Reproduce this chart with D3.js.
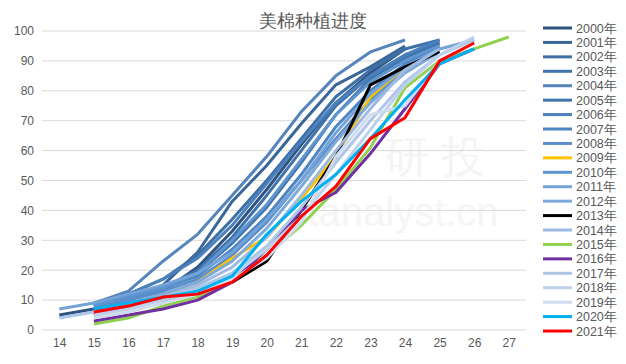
<!DOCTYPE html>
<html>
<head>
<meta charset="utf-8">
<script src="https://cdn.jsdelivr.net/npm/d3@7"></script>
<style>
  body { margin: 0; background: #fff; }
  text { font-family: "Liberation Sans", Arial, sans-serif; }
</style>
</head>
<body>
<div id="chart"></div>
<script>
var svgWidth = 626;
var svgHeight = 364;

// weeks on the x axis
var weeks = [14, 15, 16, 17, 18, 19, 20, 21, 22, 23, 24, 25, 26, 27];
var yTicks = [0, 10, 20, 30, 40, 50, 60, 70, 80, 90, 100];

var years = ["2000年", "2001年", "2002年", "2003年", "2004年", "2005年", "2006年", "2007年",
  "2008年", "2009年", "2010年", "2011年", "2012年", "2013年", "2014年", "2015年",
  "2016年", "2017年", "2018年", "2019年", "2020年", "2021年"];

var colors = ["#2f5380", "#3a679a", "#3e6fa5", "#4073aa", "#5585bb", "#4275ad", "#4a80bd", "#4d85c4",
  "#5b8fcb", "#ffc000", "#5e94d0", "#74a3d8", "#7eaadb", "#000000", "#9dbbe2", "#92d050",
  "#7030a0", "#adc6e8", "#bdd0ec", "#cfdcf0", "#00b0f0", "#ff0000"];

// planting progress (%) per week, null = no report
var p2000 = [5, 7, 10, 13, 21, 33, 47, 62, 76, 86, 94, null, null, null];
var p2001 = [null, 8, 11, 15, 26, 43, 55, 69, 82, 88, 95, null, null, null];
var p2002 = [null, 8, 12, 17, 25, 37, 50, 64, 78, 87, 94, 97, null, null];
var p2003 = [null, 7, 11, 14, 20, 31, 45, 60, 75, 85, 92, 96, null, null];
var p2004 = [null, 9, 13, 23, 32, 45, 58, 73, 85, 93, 97, null, null, null];
var p2005 = [null, 7, 10, 14, 19, 29, 41, 56, 72, 84, 91, 96, null, null];
var p2006 = [null, 9, 12, 17, 24, 35, 49, 63, 76, 85, 92, 97, null, null];
var p2007 = [null, 8, 11, 14, 18, 27, 38, 52, 68, 80, 89, 95, null, null];
var p2008 = [null, 7, 10, 13, 17, 25, 36, 50, 64, 77, 87, 94, null, null];
var p2009 = [null, 5, 7, 11, 16, 24, 31, 44, 58, 78, 88, 93, null, null];
var p2010 = [null, 8, 11, 14, 19, 30, 42, 57, 72, 83, 90, 95, null, null];
var p2011 = [7, 9, 12, 15, 19, 26, 37, 50, 66, 79, 88, 94, 97, null];
var p2012 = [null, 6, 9, 12, 16, 23, 34, 48, 63, 76, 86, 93, null, null];
var p2013 = [null, 5, 8, 10, 13, 16, 23, 40, 58, 82, 88, 93, null, null];
var p2014 = [null, 6, 8, 11, 15, 21, 31, 45, 60, 74, 87, 94, null, null];
var p2015 = [null, 2, 4, 8, 11, 17, 25, 35, 47, 61, 81, 90, 94, 98];
var p2016 = [null, 3, 5, 7, 10, 16, 27, 40, 46, 59, 74, 89, 94, null];
var p2017 = [4, 6, 8, 11, 14, 19, 28, 41, 56, 70, 83, 92, 97, null];
var p2018 = [null, 5, 7, 10, 13, 18, 27, 38, 52, 67, 82, 92, 98, null];
var p2019 = [null, 4, 6, 9, 12, 17, 24, 36, 58, 72, 75, 90, 96, null];
var p2020 = [null, 7, 9, 11, 13, 18, 32, 43, 52, 64, 77, 89, 94, null];
var p2021 = [null, 6, 8, 11, 12, 16, 25, 38, 48, 64, 71, 90, 96, null];

var seriesValues = [p2000, p2001, p2002, p2003, p2004, p2005, p2006, p2007, p2008, p2009, p2010,
  p2011, p2012, p2013, p2014, p2015, p2016, p2017, p2018, p2019, p2020, p2021];

var svg = d3.select("#chart")
  .append("svg")
  .attr("width", svgWidth)
  .attr("height", svgHeight);

var xScale = d3.scalePoint()
  .domain(weeks)
  .range([42, 526])
  .padding(0.5);

var yScale = d3.scaleLinear()
  .domain([0, 100])
  .range([330, 31]);

// watermark
svg.append("text")
  .attr("x", 435).attr("y", 172)
  .attr("text-anchor", "middle")
  .attr("font-family", "Noto Sans CJK SC")
  .attr("font-size", 44)
  .attr("fill", "#f4f4f4")
  .text("研 投");
svg.append("text")
  .attr("x", 393).attr("y", 226)
  .attr("text-anchor", "middle")
  .attr("font-size", 40)
  .attr("fill", "#f5f5f5")
  .text("stanalyst.cn");

// gridlines
svg.append("g").selectAll("line")
  .data(yTicks)
  .enter()
  .append("line")
  .attr("x1", 42).attr("x2", 526)
  .attr("y1", d => yScale(d)).attr("y2", d => yScale(d))
  .attr("stroke", "#d9d9d9")
  .attr("stroke-width", 1);

// y axis labels
var leftAxis = d3.axisLeft(yScale).tickValues(yTicks).tickSize(0).tickPadding(0);
var gy = svg.append("g")
  .attr("transform", "translate(34,0)")
  .call(leftAxis);
gy.select(".domain").remove();
gy.selectAll("text").attr("font-size", 12).attr("fill", "#595959")
  .attr("font-family", "Liberation Sans, Arial, sans-serif");

// x axis labels
var bottomAxis = d3.axisBottom(xScale).tickSize(0).tickPadding(0);
var gx = svg.append("g")
  .attr("transform", "translate(0,338)")
  .call(bottomAxis);
gx.select(".domain").remove();
gx.selectAll("text").attr("font-size", 12).attr("fill", "#595959")
  .attr("font-family", "Liberation Sans, Arial, sans-serif");

// lines
var line = d3.line()
  .defined(d => d != null)
  .x((d, i) => xScale(weeks[i]))
  .y(d => yScale(d));

svg.append("g").selectAll("path")
  .data(seriesValues)
  .enter()
  .append("path")
  .attr("d", d => line(d))
  .attr("fill", "none")
  .attr("stroke", (d, i) => colors[i])
  .attr("stroke-width", 3)
  .attr("stroke-linejoin", "round");

// title
svg.append("text")
  .attr("x", 313).attr("y", 27)
  .attr("text-anchor", "middle")
  .attr("font-family", "Noto Sans CJK SC")
  .attr("font-size", 18)
  .attr("fill", "#595959")
  .text("美棉种植进度");

// legend
var legend = svg.append("g").selectAll("g")
  .data(years)
  .enter()
  .append("g")
  .attr("transform", (d, i) => `translate(543, ${28 + i * 14.43})`);

legend.append("line")
  .attr("x1", 0).attr("x2", 29)
  .attr("stroke", (d, i) => colors[i])
  .attr("stroke-width", 3);

legend.append("text")
  .attr("x", 33).attr("y", 4.5)
  .attr("font-size", 12.5)
  .attr("fill", "#595959")
  .attr("font-family", "Liberation Sans, Noto Sans CJK SC, sans-serif")
  .text(d => d);
</script>
</body>
</html>
